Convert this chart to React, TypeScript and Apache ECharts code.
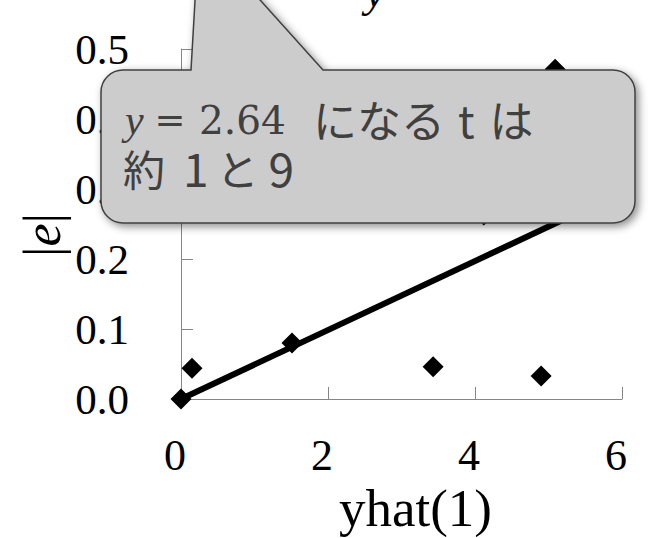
import { useEffect, useRef } from "react";
import * as echarts from "echarts";

// Residual magnitude |e| against the one-step prediction yhat(1)
const pointX = [0, 0.15, 1.51, 3.43, 4.12, 4.9, 5.09];
const pointY = [0, 0.044, 0.08, 0.046, 0.263, 0.033, 0.471];

// Straight reference line through the origin
const fitX = [0, 5.4];
const fitY = [0, 0.266];

const xMin = 0;
const xMax = 6;
const xStep = 2;
const yMin = 0;
const yMax = 0.5;
const yStep = 0.1;

const xTitle = "yhat(1)";
const noteMath = "y";
const noteEq = "=";
const noteNum = "2.64";

const SERIF = '"Liberation Serif", "Times New Roman", serif';
const MATH = '"DejaVu Serif", serif';
const JP = '"Noto Sans CJK JP", "Noto Sans", sans-serif';
const AXIS_GREY = "#868686";
const NOTE_TEXT = "#404040";

// Speech-bubble outline: rounded box with a long tail running up off the top edge
const CALLOUT_D =
  "M123,70 L191,70 L199,-68 L323,70 L613,70 A22,22 0 0 1 635,92 L635,201 A22,22 0 0 1 613,223 L123,223 A22,22 0 0 1 101,201 L101,92 A22,22 0 0 1 123,70 Z";
echarts.graphic.registerShape("callout", echarts.graphic.extendPath(CALLOUT_D, {}));

function txt(x: number, y: number, text: string, font: string, fill: string, align = "left", styleExtra: any = {}) {
  return {
    type: "text",
    x,
    y,
    z: 110,
    style: {
      text,
      font,
      fill,
      align,
      textAlign: align,
      verticalAlign: "middle",
      textVerticalAlign: "middle",
      ...styleExtra,
    },
  };
}

export default function App() {
  const ref = useRef<HTMLDivElement>(null);

  useEffect(() => {
    document.body.style.margin = "0";
    const chart = echarts.init(ref.current!, null, { renderer: "svg" });

    const option: any = {
      animation: false,
      backgroundColor: "#ffffff",
      grid: { left: 181, right: 32, top: 49, bottom: 139, containLabel: false, outerBoundsMode: "none" },
      xAxis: {
        type: "value",
        min: xMin,
        max: xMax,
        interval: xStep,
        axisLine: { show: true, onZero: false, lineStyle: { color: AXIS_GREY, width: 1 } },
        axisTick: { show: true, inside: true, length: 12, lineStyle: { color: AXIS_GREY, width: 1 } },
        splitLine: { show: false },
        axisLabel: {
          color: "#000",
          fontFamily: SERIF,
          fontSize: 44,
          margin: 34,
          padding: [0, 12, 0, 0],
          showMinLabel: true,
          showMaxLabel: true,
        },
        name: xTitle,
        nameLocation: "middle",
        nameGap: 82,
        nameTextStyle: { color: "#000", fontFamily: SERIF, fontSize: 53, padding: [0, 0, 0, 28] },
      },
      yAxis: {
        type: "value",
        min: yMin,
        max: yMax,
        interval: yStep,
        axisLine: { show: true, onZero: false, lineStyle: { color: AXIS_GREY, width: 1 } },
        axisTick: { show: true, inside: true, length: 12, lineStyle: { color: AXIS_GREY, width: 1 } },
        splitLine: { show: false },
        axisLabel: {
          color: "#000",
          fontFamily: SERIF,
          fontSize: 43,
          margin: 52,
          formatter: (v: number) => v.toFixed(1),
          showMinLabel: true,
          showMaxLabel: true,
        },
      },
      series: [
        {
          type: "line",
          data: fitX.map((x, i) => [x, fitY[i]]),
          symbol: "none",
          lineStyle: { color: "#000", width: 6, opacity: 1 },
          z: 2,
        },
        {
          type: "scatter",
          data: pointX.map((x, i) => [x, pointY[i]]),
          symbol: "diamond",
          symbolSize: 21,
          itemStyle: { color: "#000", opacity: 1 },
          z: 3,
        },
      ],
      graphic: [
        // title glyph partly above the top edge
        txt(375, -8, "y", `italic 44px ${SERIF}`, "#000", "center"),
        // y-axis title |e|
        {
          type: "text",
          x: 42,
          y: 235,
          rotation: Math.PI / 2,
          z: 110,
          style: {
            text: "{b||}{e|e}{b||}",
            align: "center",
            textAlign: "center",
            verticalAlign: "middle",
            textVerticalAlign: "middle",
            fill: "#000",
            rich: {
              b: { fontFamily: SERIF, fontSize: 52, color: "#000" },
              e: { fontFamily: SERIF, fontStyle: "italic", fontSize: 52, color: "#000" },
            },
          },
        },
        {
          type: "callout",
          x: 0,
          y: 0,
          z: 100,
          style: {
            fill: "#cccccc",
            stroke: "#404040",
            lineWidth: 1.5,
            shadowBlur: 8,
            shadowOffsetX: 3,
            shadowOffsetY: 3,
            shadowColor: "rgba(0,0,0,0.45)",
          },
        },
        txt(125, 120, noteMath, `italic 42px ${SERIF}`, NOTE_TEXT),
        txt(170, 120, noteEq, `37px ${MATH}`, NOTE_TEXT, "center"),
        txt(199, 120, noteNum, `39px ${MATH}`, NOTE_TEXT),
        txt(313, 119, "になる{s1| }t{s2| }は", `44px ${JP}`, NOTE_TEXT, "left", {
          rich: {
            s1: { width: 13, fontFamily: JP, fontSize: 44 },
            s2: { width: 15, fontFamily: JP, fontSize: 44 },
          },
        }),
        txt(123, 167, "約{g1| }{d|1}{g2| }と{g3| }{d|9}", `42px ${JP}`, NOTE_TEXT, "left", {
          rich: {
            g1: { width: 18, fontFamily: JP, fontSize: 42 },
            g2: { width: 8, fontFamily: JP, fontSize: 42 },
            g3: { width: 10, fontFamily: JP, fontSize: 42 },
            d: { fontFamily: JP, fontSize: 46, color: NOTE_TEXT },
          },
        }),
      ],
    };

    chart.setOption(option);
    return () => chart.dispose();
  }, []);

  return <div ref={ref} style={{ width: 654, height: 538 }} />;
}
